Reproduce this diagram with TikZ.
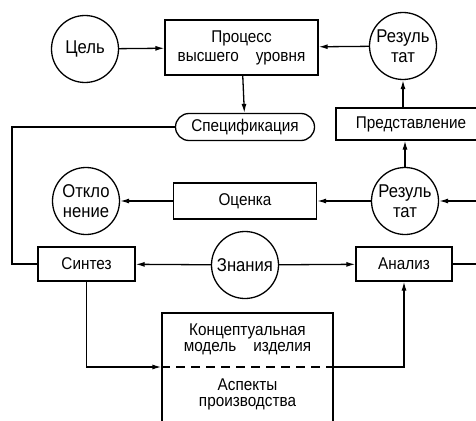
\documentclass[tikz,border=0pt]{standalone}
\usepackage{fontspec}
\setmainfont{Liberation Sans}[FakeStretch=0.9]
\usetikzlibrary{arrows.meta,positioning,shapes.misc}

\begin{document}
\begin{tikzpicture}[x=1pt,y=-1pt,
  line width=1.3pt,
  font=\fontsize{17}{19}\selectfont,
  box/.style={draw,rectangle,align=center,inner sep=2pt},
  ring/.style={draw,circle,minimum size=67pt,inner sep=0pt,align=center,
    font=\fontsize{18.5}{20}\selectfont},
  pill/.style={draw,rounded rectangle,inner sep=2pt,minimum width=143pt,minimum height=27pt},
  arrow/.style={-{Latex[length=9pt,width=5pt]}}]
\clip (0,0) rectangle (476,420);
% upper row
\node[ring](goal) at (85,49){Цель};
\node[box,minimum width=153pt,minimum height=55pt](proc) at (241.5,47.5){Процесс\\высшего\quad уровня};
\node[ring](resTop) at (403,46){Резуль\\тат};
\node[pill](spec) at (245,127){Спецификация};
\node[box,minimum width=150pt,minimum height=32pt](repr) at (411,124){Представление};
% middle row
\node[ring](dev) at (86,201){Откло\\нение};
\node[box,minimum width=143pt,minimum height=36pt](eval) at (245,201){Оценка};
\node[ring](resLow) at (405,201){Резуль\\тат};
\node[box,minimum width=97pt,minimum height=34pt](synth) at (86.5,264){Синтез};
\node[ring](know) at (245,265){Знания};
\node[box,minimum width=96pt,minimum height=34pt](anal) at (404,264){Анализ};
% product model
\node[box,minimum width=171pt,minimum height=140pt](model) at (247.5,383){};
\node(concept) at (247.5,340){\begin{tabular}{c}Концептуальная\\[-3pt]модель\quad изделия\end{tabular}};
\node(aspects) at (247.5,395){\begin{tabular}{c}Аспекты\\[-3pt]производства\end{tabular}};
\coordinate(divL) at (model.west |- 0,367);
\coordinate(divR) at (model.east |- 0,367);
\coordinate(lft) at (12,127);
\coordinate(inR) at (476,201);
\coordinate(outR) at (476,264);
% connectors
\draw[arrow](goal)--(proc);
\draw[arrow](resTop)--(proc);
\draw[arrow](proc)--(spec);
\draw(spec)--(lft)|-(synth);
\draw[arrow](repr.north -| resTop)--(resTop);
\draw[arrow](resLow)--(repr.south -| resLow);
\draw[arrow](inR)--(resLow);
\draw[arrow](resLow)--(eval);
\draw[arrow](eval)--(dev);
\draw[arrow](know)--(synth);
\draw[arrow](know)--(anal);
\draw(anal)--(outR);
\draw[arrow](synth)|-(divL);
\draw[dash pattern=on 9pt off 6pt](divL)--(divR);
\draw[arrow](divR)-|(anal);
\end{tikzpicture}
\end{document}
